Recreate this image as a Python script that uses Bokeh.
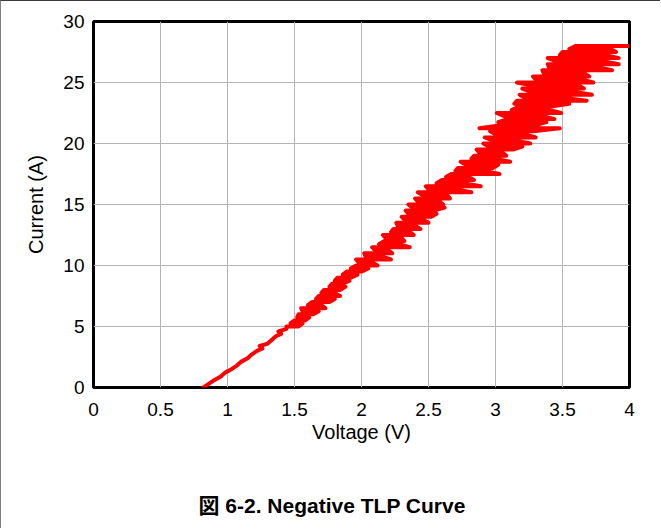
from bokeh.plotting import figure
from bokeh.models import Range1d, FixedTicker, Title
from bokeh.embed import file_html
from bokeh.resources import INLINE

# ---- data ----
# lower, smoother part of the curve
low_voltage = [0.82, 0.86, 0.90, 0.95, 0.98, 1.03, 1.07, 1.10, 1.15, 1.18, 1.22, 1.26,
               1.24, 1.30, 1.33, 1.36, 1.40, 1.38, 1.44]
low_current = [0.0, 0.3, 0.6, 0.9, 1.2, 1.5, 1.8, 2.1, 2.4, 2.7, 3.0, 3.2,
               3.4, 3.6, 3.9, 4.2, 4.4, 4.6, 4.8]

# upper, noisy part: at each current level the trace sweeps between a left and right voltage
level_current = [
    5.00, 5.25, 5.50, 5.75, 6.00, 6.25, 6.50, 6.75, 7.00, 7.25, 7.50, 7.75,
    8.00, 8.25, 8.50, 8.75, 9.00, 9.25, 9.50, 9.75, 10.00, 10.25, 10.50, 10.75,
    11.00, 11.25, 11.50, 11.75, 12.00, 12.25, 12.50, 12.75, 13.00, 13.25, 13.50, 13.75,
    14.00, 14.25, 14.50, 14.75, 15.00, 15.25, 15.50, 15.75, 16.00, 16.25, 16.50, 16.75,
    17.00, 17.25, 17.50, 17.75, 18.00, 18.25, 18.50, 18.75, 19.00, 19.25, 19.50, 19.75,
    20.00, 20.25, 20.50, 20.75, 21.00, 21.25, 21.50, 21.75, 22.00, 22.25, 22.50, 22.75,
    23.00, 23.25, 23.50, 23.75, 24.00, 24.25, 24.50, 24.75, 25.00, 25.25, 25.50, 25.75,
    26.00, 26.25, 26.50, 26.75, 27.00, 27.25, 27.50, 27.75, 28.00,
]
level_left = [
    1.44, 1.47, 1.50, 1.52, 1.53, 1.56, 1.55, 1.60, 1.63, 1.66, 1.68, 1.70,
    1.72, 1.76, 1.78, 1.80, 1.82, 1.86, 1.89, 1.92, 1.96, 1.98, 1.96, 2.03,
    2.02, 2.10, 2.08, 2.13, 2.17, 2.18, 2.16, 2.22, 2.24, 2.27, 2.26, 2.32,
    2.30, 2.35, 2.33, 2.38, 2.35, 2.42, 2.40, 2.46, 2.42, 2.50, 2.48, 2.56,
    2.60, 2.63, 2.67, 2.70, 2.72, 2.78, 2.74, 2.82, 2.84, 2.88, 2.86, 2.95,
    2.91, 2.98, 2.92, 3.00, 2.96, 2.88, 3.04, 3.02, 3.09, 3.06, 3.01, 3.12,
    3.17, 3.14, 3.16, 3.22, 3.18, 3.26, 3.20, 3.28, 3.16, 3.30, 3.28, 3.36,
    3.35, 3.40, 3.39, 3.45, 3.39, 3.48, 3.50, 3.55, 3.60,
]
level_right = [
    1.53, 1.56, 1.58, 1.61, 1.64, 1.68, 1.73, 1.70, 1.76, 1.80, 1.84, 1.80,
    1.84, 1.88, 1.86, 1.91, 1.92, 1.97, 2.00, 2.05, 2.12, 2.08, 2.22, 2.15,
    2.23, 2.20, 2.36, 2.28, 2.32, 2.30, 2.39, 2.36, 2.44, 2.40, 2.50, 2.46,
    2.52, 2.56, 2.54, 2.62, 2.61, 2.58, 2.66, 2.64, 2.82, 2.70, 2.89, 2.76,
    2.84, 2.80, 3.03, 2.92, 2.98, 3.02, 3.11, 3.00, 3.08, 3.05, 3.13, 3.20,
    3.26, 3.14, 3.30, 3.22, 3.28, 3.48, 3.30, 3.38, 3.44, 3.36, 3.49, 3.40,
    3.39, 3.55, 3.68, 3.50, 3.72, 3.58, 3.66, 3.62, 3.73, 3.64, 3.70, 3.66,
    3.87, 3.76, 3.92, 3.80, 3.92, 3.82, 3.90, 3.86, 3.99,
]

x_ticks = [0, 0.5, 1, 1.5, 2, 2.5, 3, 3.5, 4]
x_tick_labels = ["0", "0.5", "1", "1.5", "2", "2.5", "3", "3.5", "4"]
y_ticks = [0, 5, 10, 15, 20, 25, 30]
y_tick_labels = ["0", "5", "10", "15", "20", "25", "30"]

x_label = "Voltage (V)"
y_label = "Current (A)"
caption = "図 6-2. Negative TLP Curve"

# build the trace: low part, then a serpentine over the levels
voltage = list(low_voltage)
current = list(low_current)
for k, (c, lo, hi) in enumerate(zip(level_current, level_left, level_right)):
    if k % 2 == 0:
        voltage += [lo, hi]
    else:
        voltage += [hi, lo]
    current += [c, c]

FONT = "'Liberation Sans', Arial, 'Noto Sans CJK JP', sans-serif"

p = figure(
    width=660, height=528,
    output_backend="svg", toolbar_location=None,
    x_range=Range1d(0, 4), y_range=Range1d(0, 30),
    min_border_left=92, min_border_right=32, min_border_top=20, min_border_bottom=142,
)
p.styles = {
    "border-left": "1px solid #7f7f7f",
    "border-top": "1px solid #3c3c3c",
}

p.outline_line_color = "black"
p.outline_line_width = 3
p.background_fill_color = "white"
p.border_fill_color = "white"

for ax, ticks, labels in ((p.xaxis[0], x_ticks, x_tick_labels), (p.yaxis[0], y_ticks, y_tick_labels)):
    ax.ticker = FixedTicker(ticks=ticks)
    ax.major_label_overrides = {t: l for t, l in zip(ticks, labels)}
    ax.major_tick_line_color = None
    ax.minor_tick_line_color = None
    ax.axis_line_color = None
    ax.major_label_text_font = FONT
    ax.major_label_text_font_size = "19px"
    ax.major_label_text_color = "black"
    ax.axis_label_text_font = FONT
    ax.axis_label_text_font_size = "20px"
    ax.axis_label_text_font_style = "normal"
    ax.axis_label_text_color = "black"
    ax.major_tick_out = 0
    ax.major_tick_in = 0

p.xaxis.axis_label = x_label
p.yaxis.axis_label = y_label
p.xaxis.major_label_standoff = 15
p.yaxis.major_label_standoff = 9
p.xaxis.axis_label_standoff = 2
p.yaxis.axis_label_standoff = 13

p.xgrid.ticker = FixedTicker(ticks=x_ticks)
p.ygrid.ticker = FixedTicker(ticks=y_ticks)
p.grid.grid_line_color = "#b4b4b4"
p.grid.grid_line_width = 1

p.line(voltage, current, line_color="#ff0000", line_width=4,
       line_join="round", line_cap="round")

# blank spacer panel to push the caption down
p.add_layout(Title(text=" ", text_font=FONT, text_font_size="10px", standoff=28), "below")

p.add_layout(Title(
    text=caption, align="left", offset=105, standoff=10,
    text_font=FONT, text_font_size="21px", text_font_style="bold",
    text_color="black",
), "below")

open("out.html", "w").write(file_html(p, INLINE))
